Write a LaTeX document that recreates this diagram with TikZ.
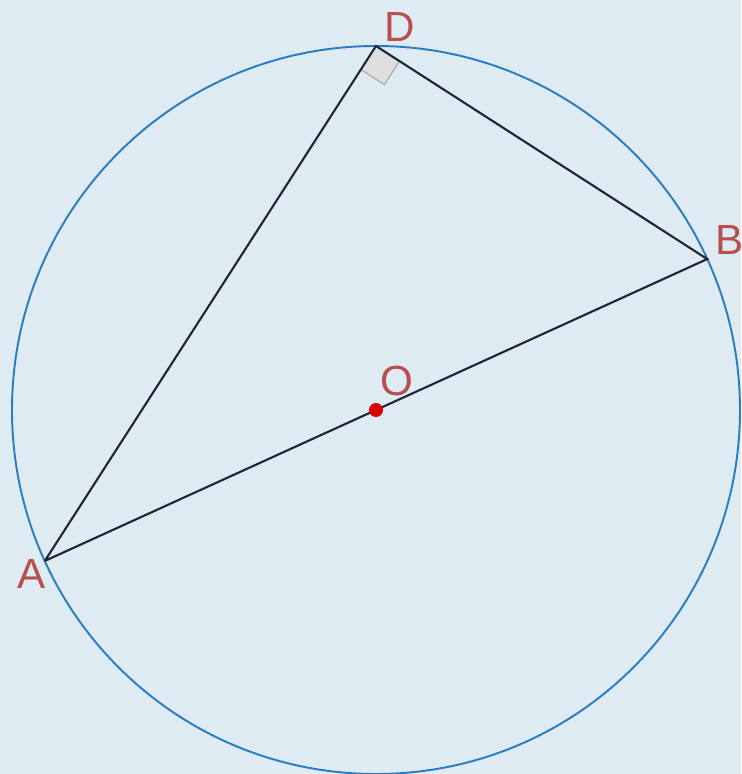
\documentclass[tikz,border=0pt]{standalone}
\usepackage{fontspec}
\setmainfont{Liberation Sans}
\usetikzlibrary{positioning,calc}
\definecolor{bgblue}{HTML}{DFEBF3}
\definecolor{circblue}{HTML}{2B7DC0}
\definecolor{segdark}{HTML}{1C2638}
\definecolor{labred}{HTML}{B5504E}
\tikzset{ptlabel/.style={text=labred,font=\fontsize{24}{28}\selectfont,inner sep=0pt},
  seg/.style={draw=segdark,line width=1.2pt}}
\begin{document}
\begin{tikzpicture}[x=0.02cm,y=0.02cm]
\fill[bgblue] (-376,-364) rectangle (365,410); \useasboundingbox (-376,-364) rectangle (365,410);
\coordinate (O) at (0,0); \coordinate (A) at (204.5:364); \coordinate (B) at (24.5:364); \coordinate (D) at (90:364);
\coordinate (sa) at ($(D)!0.56cm!(A)$); \coordinate (sb) at ($(D)!0.56cm!(B)$); \coordinate (sc) at ($(sa)+(sb)-(D)$);
\filldraw[fill=gray!25,draw=gray!70,line width=0.6pt] (D) -- (sa) -- (sc) -- (sb) -- cycle;
\draw[circblue,line width=1.1pt] (O) circle (364);
\draw[seg] (A) -- (D) -- (B) -- (A);
\fill[red!85!black] (O) circle (7);
\node[ptlabel] (labD) at ([shift={(24,19)}]D) {D}; \node[ptlabel] (labB) at ([shift={(22,19)}]B) {B};
\node[ptlabel] (labA) at ([shift={(-13,-13)}]A) {A}; \node[ptlabel] (labO) at ([shift={(21,29)}]O) {O};
\end{tikzpicture}
\end{document}
